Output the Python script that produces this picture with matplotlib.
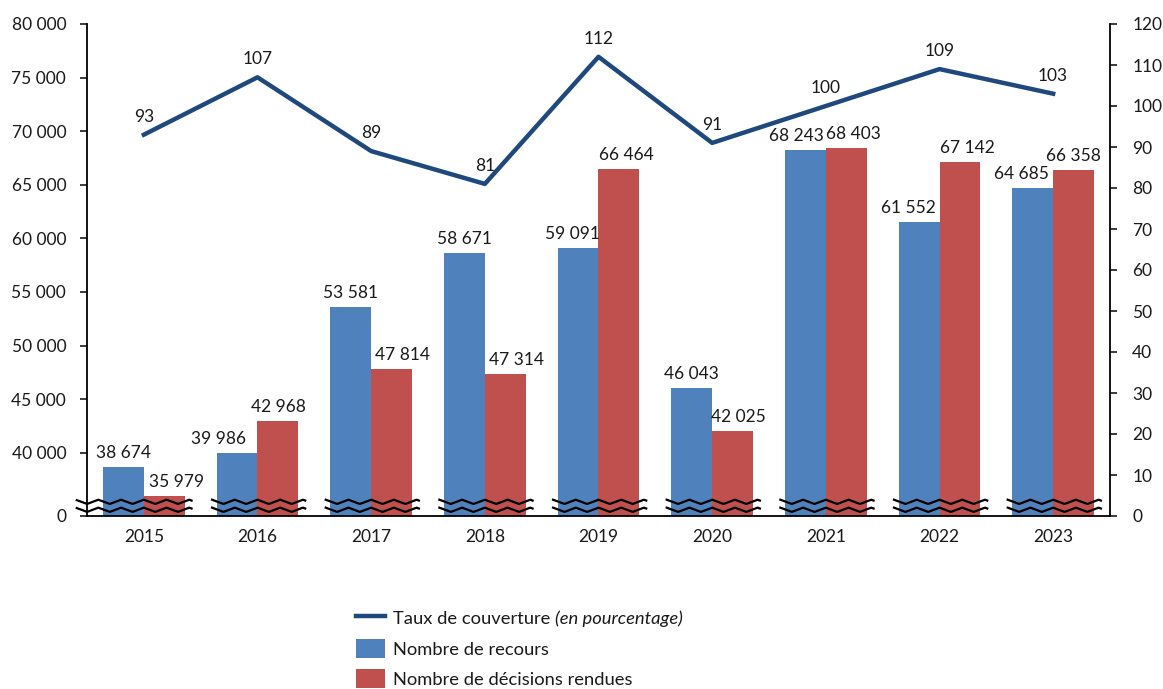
import numpy as np
import matplotlib
matplotlib.use("Agg")
import matplotlib.pyplot as plt
from matplotlib.patches import Patch
from matplotlib.lines import Line2D

plt.rcParams['font.family'] = ['Lato', 'DejaVu Sans']

years = ['2015', '2016', '2017', '2018', '2019', '2020', '2021', '2022', '2023']
recours = [38674, 39986, 53581, 58671, 59091, 46043, 68243, 61552, 64685]
decisions = [35979, 42968, 47814, 47314, 66464, 42025, 68403, 67142, 66358]
taux = [93, 107, 89, 81, 112, 91, 100, 109, 103]

left_ticks = [40000, 45000, 50000, 55000, 60000, 65000, 70000, 75000, 80000]
right_ticks = [0, 10, 20, 30, 40, 50, 60, 70, 80, 90, 100, 110, 120]

# horizontal nudges of the value labels (pixels), as placed in the original
recours_nudge = [0, -19, 0, 0, -6, 0, -9, -11, -11]
decisions_nudge = [12, 0, 11, 11, 7, 6, 7, 7, 0]

BLUE = '#4F81BD'
RED = '#C0504D'
NAVY = '#1F497D'
TXT = '#1a1a1a'
FS = 12.5

def fmt(v):
    return f"{v:,}".replace(",", " ")

fig = plt.figure(figsize=(11.63, 6.89), dpi=100)
ax = fig.add_axes([87/1163, 1-516/689, (1110-87)/1163, (516-24)/689])
ax2 = ax.twinx()

x = np.arange(len(years))
w = 0.36
ybot = 34100
ax.set_ylim(ybot, 80000)
ax.set_xlim(-0.5, len(years)-0.5)

ax.bar(x - w/2, recours, w, color=BLUE, bottom=0, zorder=2)
ax.bar(x + w/2, decisions, w, color=RED, bottom=0, zorder=2)

for xi, v, dx in zip(x - w/2, recours, recours_nudge):
    ax.annotate(fmt(v), (xi, v), xytext=(dx, 6), textcoords='offset pixels',
                ha='center', va='bottom', fontsize=FS, color=TXT)
for xi, v, dx in zip(x + w/2, decisions, decisions_nudge):
    ax.annotate(fmt(v), (xi, v), xytext=(dx, 6), textcoords='offset pixels',
                ha='center', va='bottom', fontsize=FS, color=TXT)

# axis break marks (zigzags)
def tri(t, period):
    p = (t / period) % 1.0
    return 4 * np.abs(p - 0.5) - 1

for i, xi in enumerate(x):
    x0 = xi - (0.59 if i == 0 else 0.40)
    xs = np.linspace(x0, xi + 0.42, 400)
    for yb in (35420, 34680):
        ys = yb + 200 * tri(xs - xi, 0.2)
        ax.plot(xs, ys, color='black', lw=1.6, zorder=3, clip_on=False)

ax.set_yticks([ybot] + left_ticks)
ax.set_yticklabels(['0'] + [fmt(t) for t in left_ticks])
ax.set_xticks(x)
ax.set_xticklabels(years)
ax.tick_params(axis='x', length=0, pad=9, labelsize=FS, colors=TXT)
ax.tick_params(axis='y', length=5, width=1.2, pad=10, labelsize=FS, colors=TXT, direction='out')

ax2.set_ylim(0, 120)
ax2.set_yticks(right_ticks)
ax2.tick_params(axis='y', length=5, width=1.2, pad=11, labelsize=FS, colors=TXT, direction='out')
ax2.plot(x, taux, color=NAVY, lw=3.2, zorder=4)
for xi, v in zip(x, taux):
    ax2.annotate(str(v), (xi, v), xytext=(0, 10), textcoords='offset pixels',
                 ha='center', va='bottom', fontsize=FS, color=TXT)

for a in (ax, ax2):
    a.spines['top'].set_visible(False)
    for s in ('left', 'right', 'bottom'):
        a.spines[s].set_linewidth(1.3)
        a.spines[s].set_color('black')
ax.spines['right'].set_visible(False)
ax2.spines['left'].set_visible(False)
ax2.spines['bottom'].set_visible(False)

LFS = 13.2
handles = [Line2D([0], [0], color=NAVY, lw=3.2),
           Patch(facecolor=BLUE), Patch(facecolor=RED)]
labels = ['Taux de couverture ', 'Nombre de recours', 'Nombre de décisions rendues']
leg = fig.legend(handles, labels, loc='upper left', bbox_to_anchor=(349/1163, 1-601/689),
                 frameon=False, fontsize=LFS, handlelength=1.55, handleheight=1.25,
                 labelspacing=0.6, handletextpad=0.45, borderaxespad=0)
for t in leg.get_texts():
    t.set_color(TXT)

fig.canvas.draw()
r = fig.canvas.get_renderer()
bb = leg.get_texts()[0].get_window_extent(r)
fig.text(bb.x1 / fig.bbox.width, (bb.y0 + bb.y1) / 2 / fig.bbox.height,
         '(en pourcentage)', style='italic', fontsize=LFS, color=TXT,
         ha='left', va='center')

fig.savefig('out.png', dpi=100)
